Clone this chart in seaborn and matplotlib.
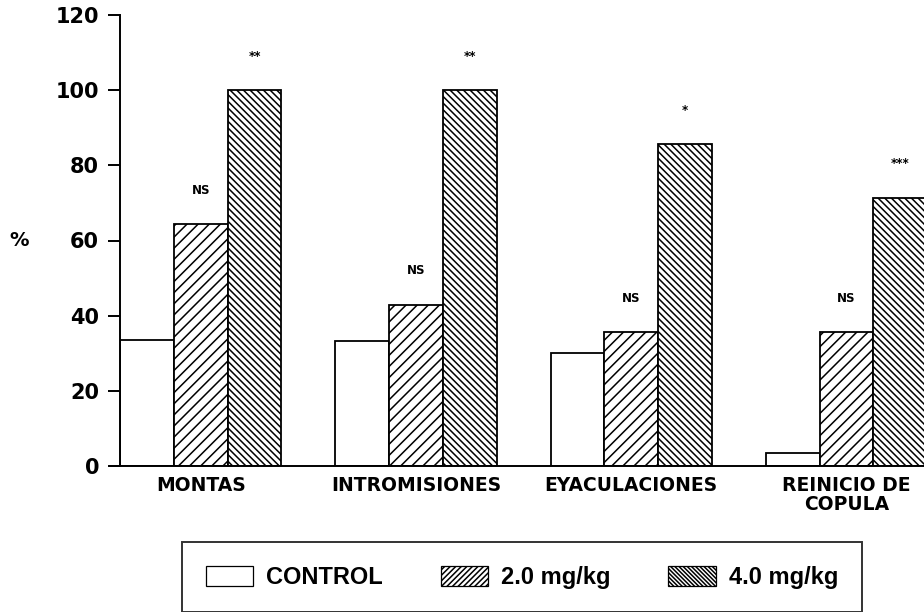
import pandas as pd
import numpy as np
import matplotlib
matplotlib.use('Agg')
import matplotlib.pyplot as plt
import seaborn as sns
from matplotlib.patches import Patch

# data
categories = ['MONTAS', 'INTROMISIONES', 'EYACULACIONES', 'REINICIO DE\nCOPULA']
groups = ['CONTROL', '2.0 mg/kg', '4.0 mg/kg']
control = [33.5, 33.3, 30.0, 3.5]
dose_2 = [64.3, 42.9, 35.7, 35.7]
dose_4 = [100.0, 100.0, 85.7, 71.4]
sig_2 = ['NS', 'NS', 'NS', 'NS']
sig_4 = ['**', '**', '*', '***']
yticks = [0, 20, 40, 60, 80, 100, 120]

df = pd.DataFrame({
    'categoria': categories * 3,
    'grupo': [g for g in groups for _ in categories],
    'valor': control + dose_2 + dose_4,
})

sns.set_style('white')
plt.rcParams['font.family'] = ['DejaVu Sans']
plt.rcParams['text.color'] = 'black'
plt.rcParams['axes.labelcolor'] = 'black'
plt.rcParams['xtick.color'] = 'black'
plt.rcParams['ytick.color'] = 'black'
plt.rcParams['hatch.linewidth'] = 1.1
plt.rcParams['hatch.color'] = 'black'

fig = plt.figure(figsize=(9.24, 6.12), dpi=100)
ax = fig.add_axes([120 / 924, (612 - 466) / 612, 1 - 120 / 924, (466 - 15) / 612])

sns.barplot(data=df, x='categoria', y='valor', hue='grupo', order=categories,
            hue_order=groups, width=0.75, ax=ax, legend=False,
            color='white', edgecolor='black', linewidth=1.3, saturation=1)

hatches = ['', '///', '\\\\\\\\\\']
for cont, h in zip(ax.containers, hatches):
    for bar in cont:
        bar.set_facecolor('white')
        bar.set_hatch(h)

# significance marks above the dosed bars
for cont, marks in zip(ax.containers[1:], [sig_2, sig_4]):
    for bar, m in zip(cont, marks):
        x = bar.get_x() + bar.get_width() / 2
        ax.text(x, bar.get_height() + 9, m, ha='center', va='center',
                fontsize=8.5, fontweight='bold')

ax.set_xlim(-0.375, 3.36)
ax.set_ylim(0, 120)
ax.set_yticks(yticks)
ax.set_yticklabels([str(t) for t in yticks], fontsize=15, fontweight='bold')
ax.set_xticks(range(len(categories)))
ax.set_xticklabels(categories, fontsize=13.5, fontweight='bold', linespacing=1.0)
ax.tick_params(axis='y', direction='out', length=9, width=1.4, pad=6, left=True)
ax.tick_params(axis='x', length=0, pad=7)
ax.set_xlabel('')
ax.set_ylabel('%', rotation=0, fontsize=14, fontweight='bold')
ax.yaxis.set_label_coords(-0.125, 0.48)

sns.despine(ax=ax, top=True, right=True)
for s in ['left', 'bottom']:
    ax.spines[s].set_linewidth(1.4)
    ax.spines[s].set_color('black')
ax.spines['bottom'].set_bounds(-0.42, 3.4)

# legend with hatched swatches
handles = [Patch(facecolor='white', edgecolor='black', hatch=h, linewidth=0.9)
           for h in ['', '//////', '\\\\\\\\\\\\\\\\']]
leg = fig.legend(handles, groups, loc='center', bbox_to_anchor=(0.565, 0.057),
                 ncol=3, frameon=True, fancybox=False, edgecolor='black',
                 prop={'family': ['Liberation Sans'], 'size': 17, 'weight': 'bold'},
                 handlelength=2.0, handleheight=0.93, handletextpad=0.55,
                 columnspacing=2.45, borderpad=1.0)
leg.get_frame().set_linewidth(1.4)

fig.savefig('out.png', dpi=100)
